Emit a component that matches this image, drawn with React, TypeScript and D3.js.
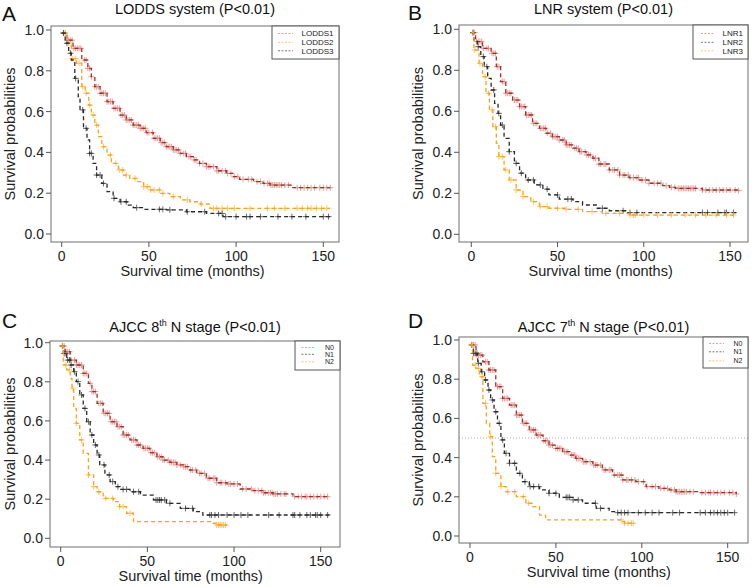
import React from "react";
import * as d3 from "d3";

type Pt = [number, number];

const RED = "#b22a24";
const ORANGE = "#ffa20f";
const BLACK = "#2a2a2a";

const xTicks = [0, 50, 100, 150];
const yTicks = [0, 0.2, 0.4, 0.6, 0.8, 1.0];

// ---- panel A: LODDS
const lodds1: Pt[] = [[0,0.985],[3,0.95],[6.5,0.91],[11.5,0.853],[15,0.812],[17,0.771],[19,0.722],[22,0.69],[26,0.649],[29.5,0.616],[33.5,0.583],[37,0.559],[41,0.534],[45,0.518],[48.5,0.497],[52.5,0.469],[56.5,0.448],[60,0.428],[64,0.412],[68,0.395],[71.5,0.379],[75.5,0.363],[79,0.346],[83,0.33],[89,0.31],[94.5,0.297],[98.5,0.281],[102,0.268],[110,0.257],[115.5,0.248],[119.5,0.24],[132.5,0.227],[154,0.227]];
const lodds2: Pt[] = [[0,0.985],[3,0.935],[5.5,0.86],[8.5,0.837],[11.5,0.722],[13.5,0.69],[15.5,0.632],[17,0.583],[19,0.534],[21,0.477],[23,0.428],[26,0.387],[28.5,0.346],[32.5,0.314],[35.5,0.289],[39,0.273],[43,0.257],[47,0.232],[50.5,0.216],[56.5,0.199],[62,0.183],[68,0.167],[73.5,0.158],[79.5,0.147],[85,0.126],[154,0.126]];
const lodds3: Pt[] = [[0,0.985],[2,0.935],[4,0.886],[5.5,0.853],[7.5,0.763],[9.5,0.673],[10.5,0.608],[12.5,0.518],[14.5,0.461],[16,0.395],[18,0.346],[20,0.289],[23,0.248],[26,0.208],[29.5,0.175],[33.5,0.158],[37.5,0.142],[41,0.129],[47,0.121],[60,0.118],[71.5,0.109],[83,0.101],[92.5,0.085],[154,0.085]];
const lodds1Cens = [1,2,3,4,5,6,7,8,9,10,11,13,14,15,16,17,19,20,21,22,23,24,25,26,27,28,29,30,31,32,33,34,35,36,37,38,39,40,41,42,43,44,45,46,47,48,49,50,52,53,54,55,56,57,58,59,60,61,62,63,64,65,66,67,68,70,71,73,74,76,77,79,81,83,84,85,87,89,90,92,94,95,97,99,101,104,107,109,112,114,116,118,119,120,121,122,123,124,125,126,128,130,135,137,139,141,143,145,148,150,152,154];
const lodds2Cens = [2,4,6,8,10,12,14,16,18,20,24,28,31,33,35,37,42,47,49,51,53,56,58,64,72,80,87,89,92,95,99,108,118,122,128,135,138,141,143,146,149,152];
const lodds3Cens = [1,3,5,8,12,14,16,17,20,22,24,30,34,37,43,56,58,62,72,82,90,92,94,100,106,108,114,124,132,140,150,153];

// ---- panel B: LNR
const lnr1: Pt[] = [[0,0.984],[2.5,0.94],[6.5,0.907],[11.5,0.883],[14.5,0.818],[17,0.745],[20,0.688],[24,0.655],[28,0.623],[31.5,0.582],[35.5,0.541],[39.5,0.517],[43.5,0.493],[47,0.476],[51,0.46],[55,0.436],[59,0.42],[62.5,0.403],[66.5,0.387],[70.5,0.371],[74,0.343],[80,0.314],[86,0.289],[91.5,0.276],[97.5,0.265],[103,0.249],[111,0.237],[115,0.229],[118.5,0.224],[134,0.216],[155,0.213]];
const lnr2: Pt[] = [[0,0.984],[1.5,0.948],[3.5,0.915],[5.5,0.867],[7.5,0.818],[9.5,0.761],[11.5,0.704],[13.5,0.639],[15.5,0.59],[17,0.533],[19,0.468],[22,0.403],[25,0.346],[28,0.298],[31.5,0.265],[36.5,0.241],[41.5,0.22],[45,0.192],[51,0.172],[59,0.159],[64.5,0.143],[72.5,0.127],[80,0.115],[89.5,0.106],[154,0.106]];
const lnr3: Pt[] = [[0,0.984],[1.5,0.899],[4.5,0.834],[6.5,0.769],[8.5,0.688],[10.5,0.607],[12.5,0.525],[14.5,0.444],[16,0.379],[19,0.314],[22,0.265],[26,0.216],[30,0.184],[34.5,0.159],[39.5,0.135],[45,0.127],[55,0.122],[64.5,0.111],[76,0.102],[91.5,0.094],[154,0.094]];
const lnr1Cens = [1,2,3,4,5,6,7,9,10,12,13,14,15,16,18,19,20,21,22,23,25,26,27,28,29,30,31,32,33,34,35,36,37,38,40,41,42,43,44,46,47,48,49,50,51,53,54,55,56,57,58,60,61,62,63,64,66,67,68,69,71,72,74,75,77,78,80,82,83,85,86,88,89,91,92,94,96,97,99,101,103,106,108,110,113,116,118,120,121,122,123,124,125,126,127,128,129,130,134,136,138,140,142,144,146,148,150,153,155];
const lnr2Cens = [1,4,7,9,13,16,18,22,26,29,33,36,40,44,50,56,58,76,88,92,96,134,137,143,147,148,152];
const lnr3Cens = [2,5,8,10,12,14,16,18,20,23,26,30,36,40,44,50,55,62,70,78,86,92,94,95,100,108,116,124,130,136,142,148,152];

// ---- panel C: AJCC 8th
const c8n0: Pt[] = [[0,0.983],[2.5,0.954],[5.5,0.911],[9,0.886],[13,0.843],[16,0.792],[18,0.75],[21,0.69],[24.5,0.639],[28.5,0.596],[32.5,0.571],[36,0.528],[40,0.503],[44,0.477],[47.5,0.46],[51.5,0.438],[55.5,0.417],[59,0.4],[63,0.388],[67,0.375],[71,0.366],[74.5,0.349],[78.5,0.332],[84,0.307],[90,0.284],[96,0.278],[103.5,0.252],[111,0.244],[117,0.233],[122.5,0.227],[134,0.213],[155,0.213]];
const c8n1: Pt[] = [[0,0.983],[1.5,0.945],[3.5,0.911],[5.5,0.886],[7.5,0.852],[9,0.801],[11,0.733],[13,0.664],[15,0.596],[17,0.528],[19,0.477],[21,0.426],[22.5,0.375],[25.5,0.324],[28.5,0.29],[31.5,0.264],[34,0.25],[40,0.238],[46,0.221],[53.5,0.196],[61,0.179],[69,0.153],[76.5,0.136],[82,0.119],[155,0.119]];
const c8n2: Pt[] = [[0,0.983],[1.5,0.886],[3.5,0.861],[5.5,0.818],[6.5,0.767],[7.5,0.664],[9,0.588],[11,0.503],[13,0.434],[16,0.324],[19,0.264],[21,0.238],[24.5,0.204],[30.5,0.187],[34,0.162],[38,0.128],[42,0.085],[88,0.077],[90,0.068],[96,0.068]];
const c8n0Cens = [1,2,3,4,5,6,8,9,10,11,12,13,14,15,17,18,19,20,22,23,24,25,26,27,28,29,30,31,32,33,34,35,36,37,38,39,41,42,43,44,45,46,48,49,50,51,52,53,54,56,57,58,59,60,62,63,64,65,66,67,69,71,72,73,75,76,78,80,81,83,85,86,88,89,90,92,93,95,97,98,100,102,105,107,110,112,114,116,117,118,120,121,122,123,124,125,127,129,130,135,137,139,141,142,144,146,148,150,152,154];
const c8n1Cens = [1,2,3,4,5,6,8,10,12,14,16,18,20,22,25,28,30,33,36,38,42,45,55,56,57,58,60,63,72,76,86,87,89,91,96,100,104,108,120,126,134,135,138,142,144,147,148,150,154];
const c8n2Cens = [1,3,5,7,9,12,16,19,22,26,30,34,36,40,90,91,92,93,94,95];

// ---- panel D: AJCC 7th
const c7n0: Pt[] = [[0,0.975],[3.5,0.923],[7.5,0.889],[11,0.847],[15,0.762],[19,0.702],[23,0.668],[27,0.617],[30.5,0.575],[34.5,0.541],[38.5,0.515],[42.5,0.486],[46,0.464],[50,0.447],[54,0.43],[58,0.413],[61.5,0.396],[65.5,0.379],[71.5,0.362],[77,0.337],[83,0.311],[89,0.286],[96.5,0.277],[102.5,0.252],[110,0.243],[116,0.235],[120,0.226],[133.5,0.221],[155,0.214]];
const c7n1: Pt[] = [[0,0.975],[2,0.932],[4.5,0.881],[6.5,0.838],[8.5,0.796],[10.5,0.745],[12,0.694],[14,0.634],[16,0.575],[18,0.49],[20,0.422],[23,0.371],[27,0.32],[30.5,0.277],[34.5,0.252],[40.5,0.235],[46,0.218],[52,0.197],[60,0.184],[65.5,0.167],[73.5,0.141],[81,0.124],[85,0.119],[155,0.119]];
const c7n2: Pt[] = [[0,0.975],[1.5,0.872],[3.5,0.855],[5.5,0.813],[7.5,0.677],[9.5,0.575],[11.5,0.507],[13,0.405],[15,0.32],[18,0.252],[21,0.226],[27,0.201],[32.5,0.167],[36.5,0.15],[40.5,0.107],[44,0.082],[89,0.073],[90,0.065],[96,0.065]];
const c7n0Cens = [1,2,3,4,5,6,7,9,10,11,12,13,14,16,17,18,19,20,21,22,24,25,26,27,28,29,30,31,32,33,35,36,37,38,39,40,41,43,44,45,46,47,48,50,51,52,53,55,56,57,59,60,61,62,63,64,66,67,68,70,72,73,74,76,78,79,81,82,84,86,87,88,89,91,92,94,96,98,101,103,106,108,111,113,115,117,119,120,121,122,123,124,125,126,128,130,135,137,139,140,142,144,146,148,151,153,155];
const c7n1Cens = [1,2,3,4,5,7,9,11,13,15,17,19,21,23,26,29,32,35,37,40,46,50,56,57,58,60,63,73,76,86,88,90,92,98,102,106,110,118,122,134,137,140,142,144,146,148,150,154];
const c7n2Cens = [1,3,5,7,9,12,15,18,22,26,31,34,88,90,92,94,95];

interface Series { name: string; color: string; censColor: string; legendColor: string; pts: Pt[]; cens: number[] }
interface PanelCfg {
  letter: string; title: string; sup?: string; titleRest?: string;
  box: [number, number, number, number]; // l,t,r,b
  xr: [number, number]; yr: [number, number];
  legend: [number, number, number, number]; legendRows: number[]; legendX: [number, number, number]; legendFont: number;
  series: Series[]; median?: boolean;
  titleX: number; titleY: number; letterXY: [number, number];
  yTitleX: number;
}

const red = { color: RED, censColor: "#d9847c", legendColor: "#e8a099" };
const orange = { color: ORANGE, censColor: "#ffb03a", legendColor: "#ffc873" };
const black = { color: BLACK, censColor: "#3a3a3a", legendColor: "#777" };

const panels: PanelCfg[] = [
  {
    letter: "A", title: "LODDS system (P<0.01)",
    box: [51, 26, 339, 242], xr: [61.7, 323.3], yr: [234, 30],
    legend: [272, 26, 339, 59], legendRows: [33.5, 42.3, 50.8], legendX: [278, 293, 301.5], legendFont: 8,
    series: [
      { name: "LODDS1", ...red, pts: lodds1, cens: lodds1Cens },
      { name: "LODDS2", ...orange, pts: lodds2, cens: lodds2Cens },
      { name: "LODDS3", ...black, pts: lodds3, cens: lodds3Cens },
    ],
    titleX: 195, titleY: 14, letterXY: [2, 21], yTitleX: 15,
  },
  {
    letter: "B", title: "LNR system (P<0.01)",
    box: [459, 25, 748, 242], xr: [471.3, 730], yr: [234.3, 29.3],
    legend: [693, 25, 748, 59], legendRows: [33.5, 42.3, 50.8], legendX: [701, 714, 722.5], legendFont: 8,
    series: [
      { name: "LNR1", ...red, pts: lnr1, cens: lnr1Cens },
      { name: "LNR2", ...black, pts: lnr2, cens: lnr2Cens },
      { name: "LNR3", ...orange, pts: lnr3, cens: lnr3Cens },
    ],
    titleX: 603.5, titleY: 14, letterXY: [408, 20], yTitleX: 423,
  },
  {
    letter: "C", title: "AJCC 8", sup: "th", titleRest: " N stage (P<0.01)",
    box: [50, 341, 340, 547], xr: [60.7, 320.7], yr: [538.3, 342.7],
    legend: [295, 341, 340, 370], legendRows: [347.5, 354.3, 361.8], legendX: [301.5, 315, 325], legendFont: 7,
    series: [
      { name: "N0", ...red, pts: c8n0, cens: c8n0Cens },
      { name: "N1", ...black, pts: c8n1, cens: c8n1Cens },
      { name: "N2", ...orange, pts: c8n2, cens: c8n2Cens },
    ],
    titleX: 195, titleY: 332, letterXY: [2, 328], yTitleX: 15,
  },
  {
    letter: "D", title: "AJCC 7", sup: "th", titleRest: " N stage (P<0.01)",
    box: [459, 337, 748, 543], xr: [470, 727.7], yr: [536, 340],
    legend: [703, 337, 748, 368], legendRows: [343.5, 351.8, 360.8], legendX: [709, 724, 733.5], legendFont: 7,
    series: [
      { name: "N0", ...red, pts: c7n0, cens: c7n0Cens },
      { name: "N1", ...black, pts: c7n1, cens: c7n1Cens },
      { name: "N2", ...orange, pts: c7n2, cens: c7n2Cens },
    ],
    median: true,
    titleX: 603.5, titleY: 332, letterXY: [408, 328], yTitleX: 423,
  },
];

const FONT = "'Liberation Sans', Arial, Helvetica, sans-serif";

function stepAt(pts: Pt[], t: number) {
  const i = d3.bisector((d: Pt) => d[0]).right(pts, t) - 1;
  return pts[Math.max(0, i)][1];
}

function Panel({ p }: { p: PanelCfg }) {
  const [l, t, r, b] = p.box;
  const x = d3.scaleLinear().domain([0, 150]).range(p.xr);
  const y = d3.scaleLinear().domain([0, 1]).range(p.yr);
  const line = d3.line<Pt>().x((d) => x(d[0])).y((d) => y(d[1])).curve(d3.curveStepAfter);
  const [ll, lt, lr, lb] = p.legend;
  return (
    <g fontFamily={FONT}>
      <text x={p.letterXY[0]} y={p.letterXY[1]} fontSize={21} fill="#111">{p.letter}</text>
      <text x={p.titleX} y={p.titleY} fontSize={14.5} textAnchor="middle" fill="#111">
        {p.title}
        {p.sup && <tspan dy={-6} fontSize={9}>{p.sup}</tspan>}
        {p.titleRest && <tspan dy={6}>{p.titleRest}</tspan>}
      </text>

      {p.median && (
        <line x1={l} x2={r} y1={y(0.5)} y2={y(0.5)} stroke="#999" strokeWidth={0.8} strokeDasharray="1,2" />
      )}

      {p.series.map((s) => (
        <g key={s.name}>
          {s.cens.map((c, i) => {
            const cx = x(c), cy = y(stepAt(s.pts, c));
            return (
              <path key={i} d={`M${cx - 3},${cy}H${cx + 3}M${cx},${cy - 3}V${cy + 3}`}
                stroke={s.censColor} strokeWidth={0.9} strokeOpacity={0.85} />
            );
          })}
          <path d={line(s.pts) ?? ""} fill="none" stroke={s.color} strokeWidth={1.3} strokeDasharray="4,3" />
        </g>
      ))}

      <rect x={l} y={t} width={r - l} height={b - t} fill="none" stroke="#6e6e6e" strokeWidth={1} />

      {yTicks.map((v) => (
        <g key={v}>
          <line x1={l - 5} x2={l} y1={y(v)} y2={y(v)} stroke="#555" />
          <text x={l - 7} y={y(v) + 5} fontSize={14} textAnchor="end" fill="#222">{v.toFixed(1)}</text>
        </g>
      ))}
      {xTicks.map((v) => (
        <g key={v}>
          <line x1={x(v)} x2={x(v)} y1={b} y2={b + 5} stroke="#555" />
          <text x={x(v)} y={b + 19} fontSize={14} textAnchor="middle" fill="#222">{v}</text>
        </g>
      ))}
      <text x={(p.xr[0] + p.xr[1]) / 2} y={b + 34} fontSize={14.5} textAnchor="middle" fill="#222">Survival time (months)</text>
      <text transform={`translate(${p.yTitleX},${(t + b) / 2}) rotate(-90)`} fontSize={14.5} textAnchor="middle" fill="#222">Survival probabilities</text>

      <rect x={ll} y={lt} width={lr - ll} height={lb - lt} fill="#fff" stroke="#555" strokeWidth={1} />
      {p.series.map((s, i) => (
        <g key={s.name}>
          <line x1={p.legendX[0]} x2={p.legendX[1]} y1={p.legendRows[i]} y2={p.legendRows[i]}
            stroke={s.legendColor} strokeWidth={1} strokeDasharray="2,1.5" />
          <text x={p.legendX[2]} y={p.legendRows[i] + p.legendFont * 0.36} fontSize={p.legendFont} fill="#222">{s.name}</text>
        </g>
      ))}
    </g>
  );
}

export default function App() {
  return (
    <svg width={752} height={587} style={{ position: "absolute", left: 0, top: 0, background: "#fff" }}>
      {panels.map((p) => <Panel key={p.letter} p={p} />)}
    </svg>
  );
}
